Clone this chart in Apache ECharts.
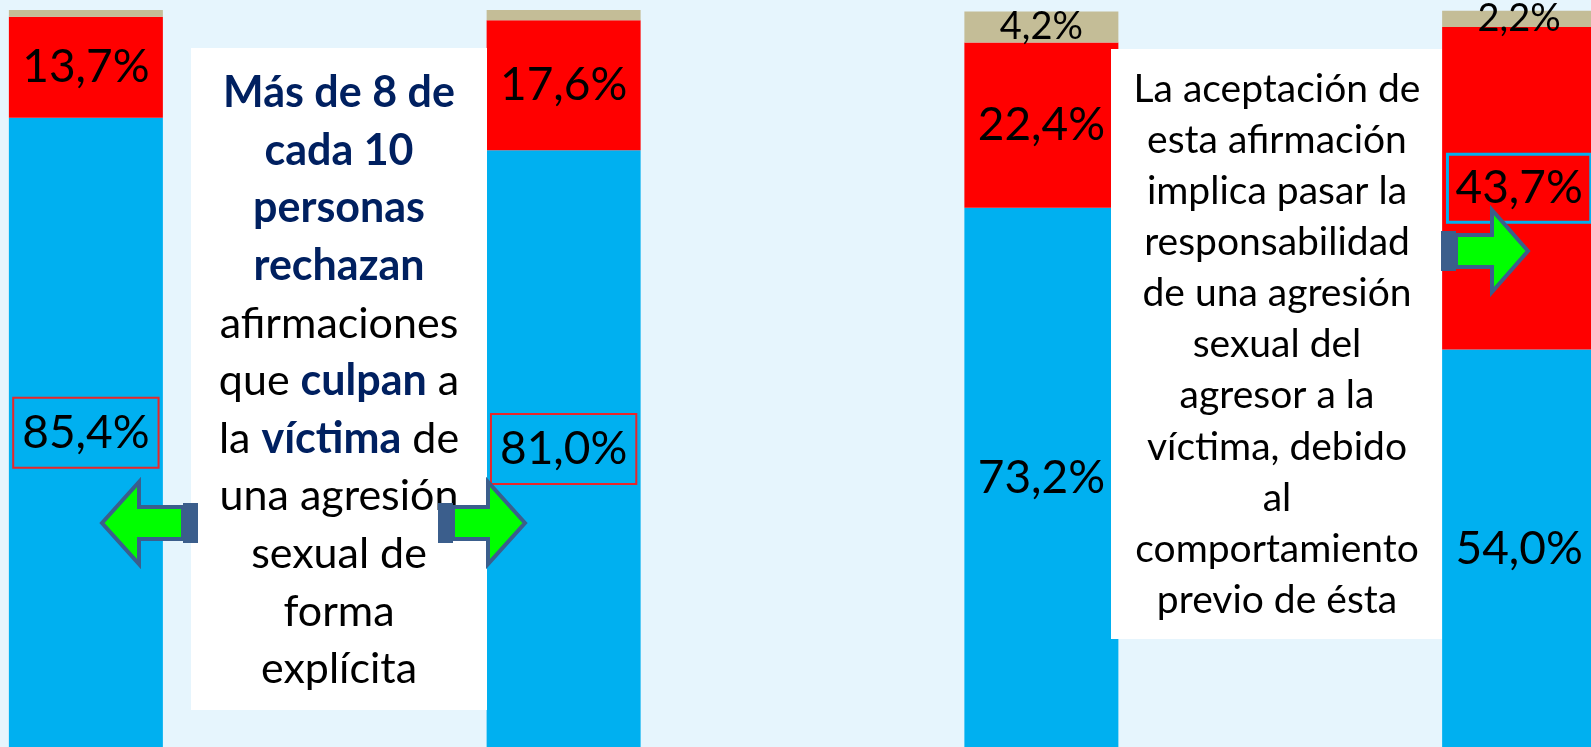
<!DOCTYPE html>
<html>
<head>
<meta charset="utf-8">
<script src="https://cdn.jsdelivr.net/npm/echarts@6/dist/echarts.min.js"></script>
<style>
  html, body { margin: 0; padding: 0; background: #e6f5fd; }
  #chart { width: 1591px; height: 747px; }
</style>
</head>
<body>
<div id="chart"></div>
<script>
// datos (porcentajes)
var categorias = ['Afirmación 1', 'Afirmación 2', 'Afirmación 3', 'Afirmación 4'];
var desacuerdo = [85.4, 81.0, 73.2, 54.0];
var deAcuerdo = [13.7, 17.6, 22.4, 43.7];
var nsnc = [0.9, 1.4, 4.2, 2.2];

var FONT = 'Lato';

function pct(v) {
  return v.toFixed(1).replace('.', ',') + '%';
}

// etiqueta base de los segmentos
var labelBase = {
  show: true,
  position: 'inside',
  color: '#000',
  fontFamily: FONT,
  fontSize: 46,
  lineHeight: 62,
  formatter: function (p) { return pct(p.value); }
};

var azulData = desacuerdo.map(function (v, i) {
  var lab = Object.assign({}, labelBase);
  if (i < 2) {
    // las dos primeras llevan un recuadro rojo
    lab.borderColor = '#e8262a';
    lab.borderWidth = 2;
    lab.padding = [4, 9, 4, 9];
  }
  return { value: v, label: lab };
});

var rojoData = deAcuerdo.map(function (v, i) {
  var lab = Object.assign({}, labelBase);
  if (i == 3) {
    lab.borderColor = '#00b0f0';
    lab.borderWidth = 3;
    lab.padding = [3, 8, 3, 8];
  }
  return { value: v, label: lab };
});

var tanData = nsnc.map(function (v, i) {
  var lab = Object.assign({}, labelBase, { fontSize: 38, lineHeight: 40 });
  lab.show = i >= 2;
  return { value: v, label: lab };
});

// flecha: tip = punta, cy = centro vertical, dir = -1 izquierda / 1 derecha
function flecha(tip, cy, head, shaft, block, dir) {
  var b = tip - dir * head;
  var s = b - dir * shaft;
  var pts = [
    [tip, cy], [b, cy - 41], [b, cy - 16], [s, cy - 16],
    [s, cy + 16], [b, cy + 16], [b, cy + 41]
  ];
  var bx = dir < 0 ? s : s - block;
  return [
    {
      type: 'polygon', z: 120,
      shape: { points: pts },
      style: { fill: '#00ff00', stroke: '#3b5e8c', lineWidth: 4, lineJoin: 'miter' }
    },
    {
      type: 'rect', z: 121,
      shape: { x: bx, y: cy - 20, width: block, height: 40 },
      style: { fill: '#3b5e8c' }
    }
  ];
}

var texto1 = [
  '{b|Más de 8 de}',
  '{b|cada 10}',
  '{b|personas}',
  '{b|rechazan}',
  '{n|afirmaciones}',
  '{n|que }{b|culpan}{n| a}',
  '{n|la }{b|víctima}{n| de}',
  '{n|una agresión}',
  '{n|sexual de}',
  '{n|forma}',
  '{n|explícita}'
].join('\n');

var texto2 = [
  'La aceptación de',
  'esta afirmación',
  'implica pasar la',
  'responsabilidad',
  'de una agresión',
  'sexual del',
  'agresor a la',
  'víctima, debido',
  'al',
  'comportamiento',
  'previo de ésta'
].join('\n');

var graficos = [
  {
    type: 'rect', z: 100,
    shape: { x: 191, y: 48, width: 296, height: 662 },
    style: { fill: '#ffffff' }
  },
  {
    type: 'text', z: 101,
    x: 339, y: 64.6,
    style: {
      text: texto1,
      align: 'center',
      verticalAlign: 'top',
      rich: {
        b: { fontFamily: FONT, fontWeight: 'bold', fontSize: 43, lineHeight: 57.6, fill: '#002060' },
        n: { fontFamily: FONT, fontSize: 43, lineHeight: 57.6, fill: '#000' }
      }
    }
  },
  {
    type: 'rect', z: 100,
    shape: { x: 1111, y: 49, width: 331, height: 590 },
    style: { fill: '#ffffff' }
  },
  {
    type: 'text', z: 101,
    x: 1277, y: 63.7,
    style: {
      text: texto2,
      align: 'center',
      verticalAlign: 'top',
      fontFamily: FONT,
      fontSize: 39,
      lineHeight: 51.1,
      fill: '#000'
    }
  }
];
graficos = graficos
  .concat(flecha(102, 523, 37, 44, 15, -1))
  .concat(flecha(525, 523, 37, 35, 15, 1))
  .concat(flecha(1528, 251, 36, 36, 15, 1));

var chart = echarts.init(document.getElementById('chart'));
chart.setOption({
  backgroundColor: '#e6f5fd',
  animation: false,
  grid: {
    left: -153, right: -167, top: 10, bottom: -1,
    containLabel: false,
    outerBoundsMode: 'none'
  },
  xAxis: {
    type: 'category',
    data: categorias,
    show: false
  },
  yAxis: {
    type: 'value',
    min: 0,
    max: 100,
    show: false
  },
  series: [
    { name: 'En desacuerdo', type: 'bar', stack: 'total', barWidth: 154, itemStyle: { color: '#00b0f0' }, data: azulData },
    { name: 'De acuerdo', type: 'bar', stack: 'total', barWidth: 154, itemStyle: { color: '#ff0000' }, data: rojoData },
    { name: 'NS/NC', type: 'bar', stack: 'total', barWidth: 154, itemStyle: { color: '#c4bd97' }, data: tanData }
  ],
  graphic: graficos
});
</script>
</body>
</html>
